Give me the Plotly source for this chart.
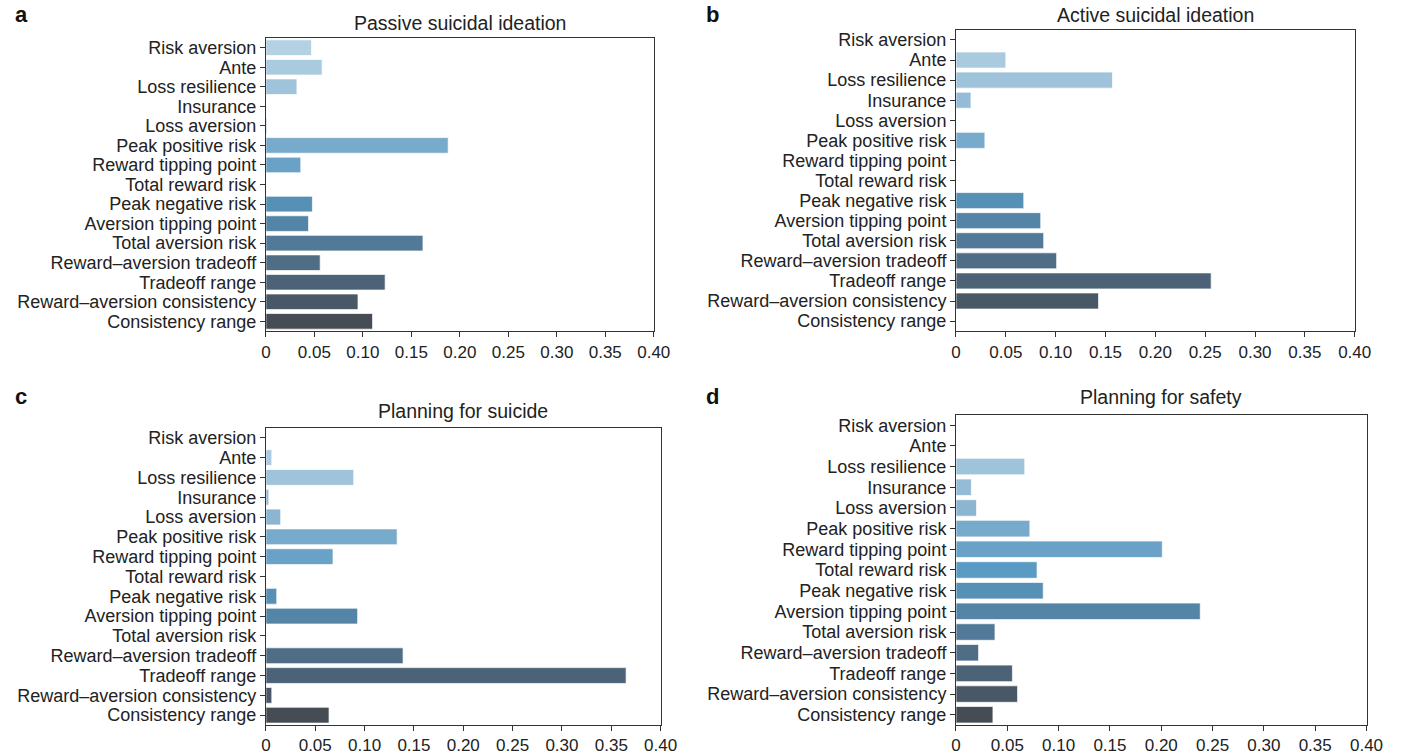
import plotly.graph_objects as go

features = ["Risk aversion", "Ante", "Loss resilience", "Insurance", "Loss aversion",
            "Peak positive risk", "Reward tipping point", "Total reward risk",
            "Peak negative risk", "Aversion tipping point", "Total aversion risk",
            "Reward\u2013aversion tradeoff", "Tradeoff range",
            "Reward\u2013aversion consistency", "Consistency range"]

passive_ideation = [0.047, 0.058, 0.032, 0.0, 0.001, 0.188, 0.036, 0.0, 0.048, 0.044,
                    0.162, 0.056, 0.123, 0.095, 0.110]
active_ideation = [0.0, 0.050, 0.157, 0.015, 0.0, 0.029, 0.0, 0.0, 0.068, 0.085,
                   0.088, 0.101, 0.256, 0.143, 0.0]
planning_suicide = [0.0, 0.006, 0.089, 0.003, 0.015, 0.133, 0.068, 0.0, 0.011, 0.093,
                    0.0, 0.139, 0.365, 0.006, 0.064]
planning_safety = [0.0, 0.0, 0.067, 0.015, 0.020, 0.072, 0.201, 0.079, 0.085, 0.238,
                   0.038, 0.022, 0.055, 0.060, 0.036]

titles = ["Passive suicidal ideation", "Active suicidal ideation",
          "Planning for suicide", "Planning for safety"]
letters = ["a", "b", "c", "d"]

tick_vals = [0, 0.05, 0.10, 0.15, 0.20, 0.25, 0.30, 0.35, 0.40]
tick_text = ["0", "0.05", "0.10", "0.15", "0.20", "0.25", "0.30", "0.35", "0.40"]

bar_colors = ["#b3d1e2", "#a9cadf", "#9fc3da", "#95bcd6", "#8bb5d1", "#78aacb",
              "#6aa2c7", "#5a9bc3", "#5690b5", "#5485a6", "#527997", "#4f6e86",
              "#4c6377", "#495866", "#454c54"]

W, H = 1416, 755
# panel boxes in window pixels: (left, right, top, bottom)
boxes = [(265, 659, 38, 332), (966, 1371, 30, 332),
         (265, 666, 429, 727), (966, 1383, 416, 727)]
title_y = [23, 15, 412, 398]
letter_pos = [(8, 15), (710, 15), (8, 398), (710, 398)]


def px(x):
    return x / W


def py(y):
    return 1 - y / H


FONT = "Liberation Sans"
fig = go.Figure()
series = [passive_ideation, active_ideation, planning_suicide, planning_safety]
for i, vals in enumerate(series):
    sx = "" if i == 0 else str(i + 1)
    fig.add_trace(go.Bar(
        x=vals, y=features, orientation="h", width=0.8,
        marker=dict(color=bar_colors, line=dict(color="rgba(255,255,255,0.7)", width=1)),
        xaxis="x" + sx, yaxis="y" + sx, showlegend=False))
    l, r, t, b = boxes[i]
    fig.layout["xaxis" + sx] = dict(
        domain=[px(l), px(r)], anchor="y" + sx, range=[0, 0.40],
        tickmode="array", tickvals=tick_vals, ticktext=tick_text,
        ticks="outside", ticklen=5, tickwidth=1, tickcolor="#333",
        showgrid=False, zeroline=False,
        showline=True, linecolor="#333", linewidth=1, mirror=True,
        tickfont=dict(family=FONT, size=17, color="#222"))
    fig.layout["yaxis" + sx] = dict(
        domain=[py(b), py(t)], anchor="x" + sx,
        categoryorder="array", categoryarray=features,
        range=[14.5, -0.5], tickmode="array", tickvals=features, ticktext=features,
        ticks="outside", ticklen=5, tickwidth=1, tickcolor="#333",
        showgrid=False, zeroline=False, showline=True, linecolor="#333", linewidth=1,
        mirror=True, tickfont=dict(family=FONT, size=18, color="#222"))
    fig.add_annotation(text=titles[i], x=px((l + r) / 2), y=py(title_y[i]),
                       xref="paper", yref="paper", showarrow=False,
                       font=dict(family=FONT, size=19.5, color="#222"),
                       xanchor="center", yanchor="middle")
    lx, ly = letter_pos[i]
    fig.add_annotation(text="<b>" + letters[i] + "</b>", x=px(lx), y=py(ly),
                       xref="paper", yref="paper", showarrow=False,
                       font=dict(family="Liberation Sans", size=22, color="#111"),
                       xanchor="left", yanchor="middle")

fig.update_layout(width=W, height=H, autosize=False,
                  margin=dict(l=0, r=0, t=0, b=0),
                  plot_bgcolor="white", paper_bgcolor="white", bargap=0.2)

page_fix = ("document.documentElement.style.margin='0';"
            "document.body.style.margin='0';"
            "document.body.style.padding='0';"
            "document.documentElement.style.overflow='hidden';"
            "document.body.style.overflow='hidden';")
fig.write_html("out.html", config={"responsive": False, "displayModeBar": False},
               post_script=page_fix)
